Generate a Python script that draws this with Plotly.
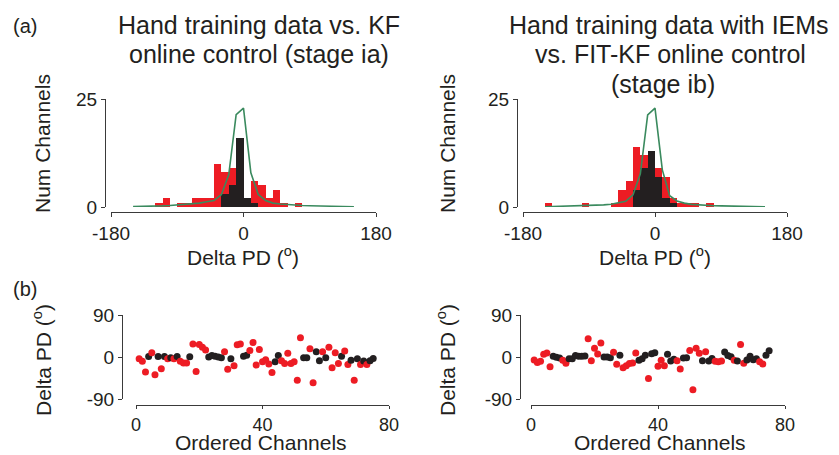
import plotly.graph_objects as go

W, H = 839, 455

# ---------------- data ----------------
# histogram bins (bin centres, degrees) and counts
bins_left = [-115, -105, -95, -85, -75, -65, -55, -45, -35, -25, -15, -5, 5, 15, 25, 35, 45, 55, 65, 75]
red_left = [1, 2, 0, 1, 1, 2, 2, 2, 10, 8, 9, 0, 0, 6, 5, 2, 4, 1, 0, 1]
bins_black_left = [-25, -15, -5, 5, 15]
black_left = [3, 5, 16, 2, 1]

bins_right = [-145, -135, -125, -115, -105, -95, -85, -75, -65, -55, -45, -35, -25, -15, -5, 5, 15, 25, 35, 45, 55, 65, 75]
red_right = [1, 0, 0, 0, 0, 1, 0, 0, 0, 1, 4, 6, 14, 12, 0, 9, 7, 2, 1, 1, 1, 0, 1]
bins_black_right = [-25, -15, -5, 5, 15, 25]
black_right = [4, 9, 13, 7, 2, 1]

curve_x = [-150, -140, -130, -120, -110, -100, -90, -80, -70, -60, -50, -40, -30, -20, -10,
           0, 10, 20, 30, 40, 50, 60, 70, 80, 90, 100, 110, 120, 130, 140, 150]
curve_left = [0.1, 0.1, 0.15, 0.2, 0.25, 0.35, 0.45, 0.55, 0.7, 0.9, 1.2, 1.5, 2.9, 7.5, 21.4,
              22.9, 7.9, 2.9, 1.5, 0.9, 0.7, 0.55, 0.45, 0.35, 0.3, 0.25, 0.2, 0.15, 0.12, 0.1, 0.05]
curve_right = [0.05, 0.1, 0.12, 0.15, 0.2, 0.25, 0.3, 0.4, 0.5, 0.65, 0.9, 1.3, 2.8, 7.7, 21.3,
               22.9, 8.6, 2.6, 1.4, 0.9, 0.6, 0.45, 0.35, 0.3, 0.25, 0.2, 0.15, 0.12, 0.1, 0.08, 0.05]

# ordered channels scatter: delta PD per channel, colour flag (1 = red, 0 = black)
chan = list(range(1, 76))
dpd_left = [-4, -9, -32, 1, 9, -38, 1, -25, 1, -4, -1.5, -4, 1, -9, -13, -13, 0.7, 28, -31, 27,
            21, 15, 0, 3, 1.5, 0, -1.5, 11, -26, -3.5, -19, 26, 28, 1.5, 3.5, 14, 31, -17, 16, -10,
            -6, -15, -33, -10, 3, -8, -14, 8, -14, -10, -50, 41, -1.5, -1.5, 17.6, -55, 11, -8, 11, -1.5,
            21, -23, 9, -14, 1.5, 13, -16, -7, -50, -3.5, -16, -8.5, -16, -8, -3]
red_flag_left = [1, 1, 1, 0, 1, 1, 0, 1, 0, 1, 0, 1, 0, 1, 1, 1, 0, 1, 1, 1,
                 1, 1, 0, 0, 0, 0, 0, 1, 1, 0, 1, 1, 1, 0, 0, 1, 1, 1, 1, 1,
                 1, 1, 1, 0, 0, 1, 1, 1, 1, 1, 1, 1, 0, 0, 1, 1, 0, 0, 1, 0,
                 1, 1, 1, 1, 0, 1, 1, 0, 1, 0, 1, 0, 1, 0, 0]
dpd_right = [-6.4, -12, -9, 6, 8.5, -21, 1.4, -0.7, -2, -7, -13.5, -4, -4, 3, 1.4, 1.4, 2, 39, -8, 18.5,
             6.4, 30, 0, 0, -1.4, 10, -15.6, 4, -23, -18.5, -14, -13, 8.5, -7, -4, 3.5, -46, 7, 9, -20,
             -7, -18.5, 5.7, -8.5, -5, -8, -25.6, -2, -1.4, 14, -70, 19, 8, -8, 11, -8.5, -3, -9, -10, -8.5,
             10.7, 3, 0.7, -7, -8.5, 27, -13.5, -6.4, 1.4, -5.7, -4, -10, -15, 4, 13.5]
red_flag_right = [1, 1, 1, 1, 1, 1, 0, 0, 0, 1, 1, 0, 0, 0, 0, 0, 0, 1, 1, 1,
                  1, 1, 0, 0, 0, 1, 1, 0, 1, 1, 1, 1, 1, 0, 0, 0, 1, 0, 0, 1,
                  1, 1, 0, 0, 0, 1, 1, 0, 0, 1, 1, 1, 1, 0, 1, 0, 0, 1, 1, 1,
                  0, 0, 0, 1, 0, 1, 1, 0, 0, 0, 0, 1, 1, 0, 0]

hist_xticks = [-180, 0, 180]
hist_xlabels = ["-180", "0", "180"]
hist_yticks = [0, 25]
hist_ylabels = ["0", "25"]
sc_xticks = [0, 40, 80]
sc_xlabels = ["0", "40", "80"]
sc_yticks = [-90, 0, 90]
sc_ylabels = ["-90", "0", "90"]

# ---------------- style ----------------
RED = "#ED1C24"
BLACK = "#231F20"
GREEN = "#3A8A5E"
AXC = "#3a3a3a"
FONT = "Liberation Sans, Arial, Helvetica, sans-serif"


def fx(px):
    return px / W


def fy(py):
    return 1 - py / H


fig = go.Figure()

# top-left histogram
fig.add_trace(go.Bar(x=bins_left, y=red_left, width=10, marker=dict(color=RED, line=dict(width=0)),
                     xaxis="x", yaxis="y", showlegend=False))
fig.add_trace(go.Bar(x=bins_black_left, y=black_left, width=10, marker=dict(color=BLACK, line=dict(width=0)),
                     xaxis="x", yaxis="y", showlegend=False))
fig.add_trace(go.Scatter(x=curve_x, y=curve_left, mode="lines", line=dict(color=GREEN, width=1.6),
                         xaxis="x", yaxis="y", showlegend=False, cliponaxis=False))
# top-right histogram
fig.add_trace(go.Bar(x=bins_right, y=red_right, width=10, marker=dict(color=RED, line=dict(width=0)),
                     xaxis="x2", yaxis="y2", showlegend=False))
fig.add_trace(go.Bar(x=bins_black_right, y=black_right, width=10, marker=dict(color=BLACK, line=dict(width=0)),
                     xaxis="x2", yaxis="y2", showlegend=False))
fig.add_trace(go.Scatter(x=curve_x, y=curve_right, mode="lines", line=dict(color=GREEN, width=1.6),
                         xaxis="x2", yaxis="y2", showlegend=False, cliponaxis=False))

# bottom scatters
fig.add_trace(go.Scatter(x=chan, y=dpd_left, mode="markers",
                         marker=dict(size=7, color=[RED if f else BLACK for f in red_flag_left]),
                         xaxis="x3", yaxis="y3", showlegend=False, cliponaxis=False))
fig.add_trace(go.Scatter(x=chan, y=dpd_right, mode="markers",
                         marker=dict(size=7, color=[RED if f else BLACK for f in red_flag_right]),
                         xaxis="x4", yaxis="y4", showlegend=False, cliponaxis=False))

common = dict(showline=True, linecolor=AXC, linewidth=1.2, ticks="outside", ticklen=4, tickwidth=1,
              tickcolor=AXC, showgrid=False, zeroline=False, anchor="free", automargin=False,
              tickfont=dict(family=FONT, size=19, color=BLACK))
bottomx = dict(common, tickfont=dict(family=FONT, size=18, color=BLACK), ticklen=3)

fig.update_layout(
    width=W, height=H, margin=dict(l=0, r=0, t=0, b=0, pad=0, autoexpand=False),
    paper_bgcolor="white", plot_bgcolor="white",
    barmode="overlay", bargap=0,
    font=dict(family=FONT, color=BLACK),
    xaxis=dict(domain=[fx(111), fx(376)], range=[-180, 180], position=fy(212),
               tickvals=hist_xticks, ticktext=hist_xlabels, **common),
    yaxis=dict(domain=[fy(207), fy(99)], range=[0, 25], position=fx(105),
               tickvals=hist_yticks, ticktext=hist_ylabels, **common),
    xaxis2=dict(domain=[fx(523), fx(787)], range=[-180, 180], position=fy(212),
                tickvals=hist_xticks, ticktext=hist_xlabels, **common),
    yaxis2=dict(domain=[fy(207), fy(99)], range=[0, 25], position=fx(517),
                tickvals=hist_yticks, ticktext=hist_ylabels, **common),
    xaxis3=dict(domain=[fx(136), fx(389)], range=[0, 80], position=fy(405),
                tickvals=sc_xticks, ticktext=sc_xlabels, **bottomx),
    yaxis3=dict(domain=[fy(399), fy(315)], range=[-90, 90], position=fx(122),
                tickvals=sc_yticks, ticktext=sc_ylabels, **common),
    xaxis4=dict(domain=[fx(531), fx(785)], range=[0, 80], position=fy(405),
                tickvals=sc_xticks, ticktext=sc_xlabels, **bottomx),
    yaxis4=dict(domain=[fy(399), fy(315)], range=[-90, 90], position=fx(520),
                tickvals=sc_yticks, ticktext=sc_ylabels, **common),
)


def ann(text, x, y, size, angle=0, xanchor="center"):
    fig.add_annotation(text=text, x=fx(x), y=fy(y), xref="paper", yref="paper", showarrow=False,
                       xanchor=xanchor, yanchor="middle", textangle=angle,
                       font=dict(family=FONT, size=size, color=BLACK))


ann("(a)", 11, 26, 20, xanchor="left")
ann("(b)", 11, 289, 20, xanchor="left")

ann("Hand training data vs. KF", 259, 25, 25)
ann("online control (stage ia)", 259, 54, 25)
ann("Hand training data with IEMs", 669, 25, 25)
ann("vs. FIT-KF online control", 670, 54, 25)
ann("(stage ib)", 663, 84, 25)

ann("Num Channels", 42, 144, 21, angle=-90)
ann("Num Channels", 447, 144, 21, angle=-90)
ann("Delta PD (<sup>o</sup>)", 243, 256, 21)
ann("Delta PD (<sup>o</sup>)", 655, 256, 21)

ann("Delta PD (<sup>o</sup>)", 42, 360, 21, angle=-90)
ann("Delta PD (<sup>o</sup>)", 446, 360, 21, angle=-90)
ann("Ordered Channels", 261, 442, 21)
ann("Ordered Channels", 660, 442, 21)

fig.write_html("out.html", config={"displayModeBar": False},
               post_script="document.body.style.margin='0';document.body.style.overflow='hidden';")
